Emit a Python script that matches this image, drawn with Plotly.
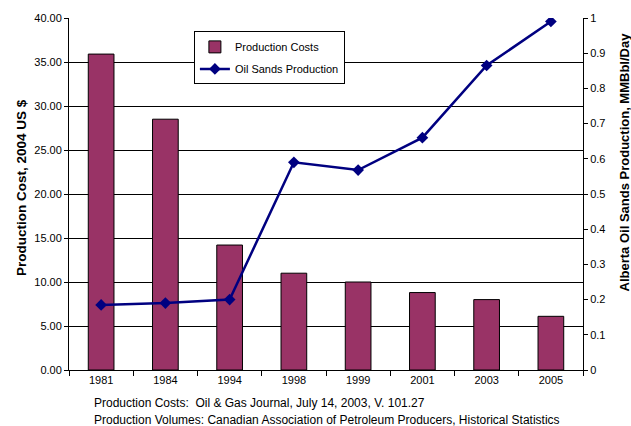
import plotly.graph_objects as go

# Data
years = ["1981", "1984", "1994", "1998", "1999", "2001", "2003", "2005"]
production_costs = [35.9, 28.5, 14.2, 11.0, 10.0, 8.8, 8.0, 6.1]        # 2004 US $
oil_sands_production = [0.185, 0.19, 0.20, 0.59, 0.568, 0.66, 0.865, 0.99]  # MMBbl/Day

cost_ticks = [i * 5 for i in range(9)]
cost_tick_labels = [f"{v:.2f}" for v in cost_ticks]
prod_ticks = [i / 10 for i in range(11)]
prod_tick_labels = ["0", "0.1", "0.2", "0.3", "0.4", "0.5", "0.6", "0.7", "0.8", "0.9", "1"]

source_lines = [
    "Production Costs:  Oil & Gas Journal, July 14, 2003, V. 101.27",
    "Production Volumes: Canadian Association of Petroleum Producers, Historical Statistics",
]

FONT = "Liberation Sans, Arial, sans-serif"
BAR_COLOR = "#993366"
LINE_COLOR = "#000080"

fig = go.Figure()

fig.add_trace(go.Bar(
    x=years, y=production_costs, name="Production Costs",
    marker=dict(color=BAR_COLOR, line=dict(color="#000000", width=1)),
    yaxis="y", legendgroup="a",
))

fig.add_trace(go.Scatter(
    x=years, y=oil_sands_production, name="Oil Sands Production",
    mode="lines+markers",
    line=dict(color=LINE_COLOR, width=2.5),
    marker=dict(symbol="diamond", size=9, color=LINE_COLOR),
    yaxis="y2", legendgroup="b",
))

axis_font = dict(family=FONT, size=11, color="#000000")

fig.update_layout(
    width=631, height=426,
    margin=dict(l=69, r=48, t=16, b=56),
    paper_bgcolor="#ffffff", plot_bgcolor="#ffffff",
    font=dict(family=FONT, size=11, color="#000000"),
    bargap=0.6,
    showlegend=True,
    legend=dict(
        x=0.243, y=0.962, xanchor="left", yanchor="top",
        bgcolor="#ffffff", bordercolor="#000000", borderwidth=1,
        font=dict(family=FONT, size=11, color="#000000"),
        tracegroupgap=3,
    ),
    xaxis=dict(
        type="category", showgrid=False,
        showline=True, linecolor="#000000", linewidth=1,
        ticks="outside", tickson="boundaries", ticklen=5, tickcolor="#000000",
        tickfont=axis_font,
    ),
    yaxis=dict(
        range=[0, 40], tickvals=cost_ticks, ticktext=cost_tick_labels,
        showgrid=True, gridcolor="#000000", gridwidth=1,
        showline=True, linecolor="#000000", linewidth=1,
        ticks="outside", ticklen=4, tickcolor="#000000",
        tickfont=axis_font, zeroline=False,
    ),
    yaxis2=dict(
        range=[0, 1], tickvals=prod_ticks, ticktext=prod_tick_labels,
        overlaying="y", side="right", showgrid=False,
        showline=True, linecolor="#000000", linewidth=1,
        ticks="outside", ticklen=4, tickcolor="#000000",
        tickfont=axis_font, zeroline=False,
    ),
)

# Axis titles
fig.add_annotation(
    text="<b>Production Cost, 2004 US $</b>", textangle=-90,
    xref="paper", yref="paper", x=-0.0915, y=0.52,
    xanchor="center", yanchor="middle", showarrow=False,
    font=dict(family=FONT, size=13.5, color="#000000"),
)
fig.add_annotation(
    text="<b>Alberta Oil Sands Production, MMBbl/Day</b>", textangle=-90,
    xref="paper", yref="paper", x=1.08, y=0.59,
    xanchor="center", yanchor="middle", showarrow=False,
    font=dict(family=FONT, size=13, color="#000000"),
)

# Source notes below the chart
for i, line in enumerate(source_lines):
    fig.add_annotation(
        text=line, xref="paper", yref="paper",
        x=0.0447, y=-0.094 - i * 0.047,
        xanchor="left", yanchor="middle", showarrow=False,
        font=dict(family=FONT, size=12, color="#000000"),
    )

fig.write_html("out.html")
